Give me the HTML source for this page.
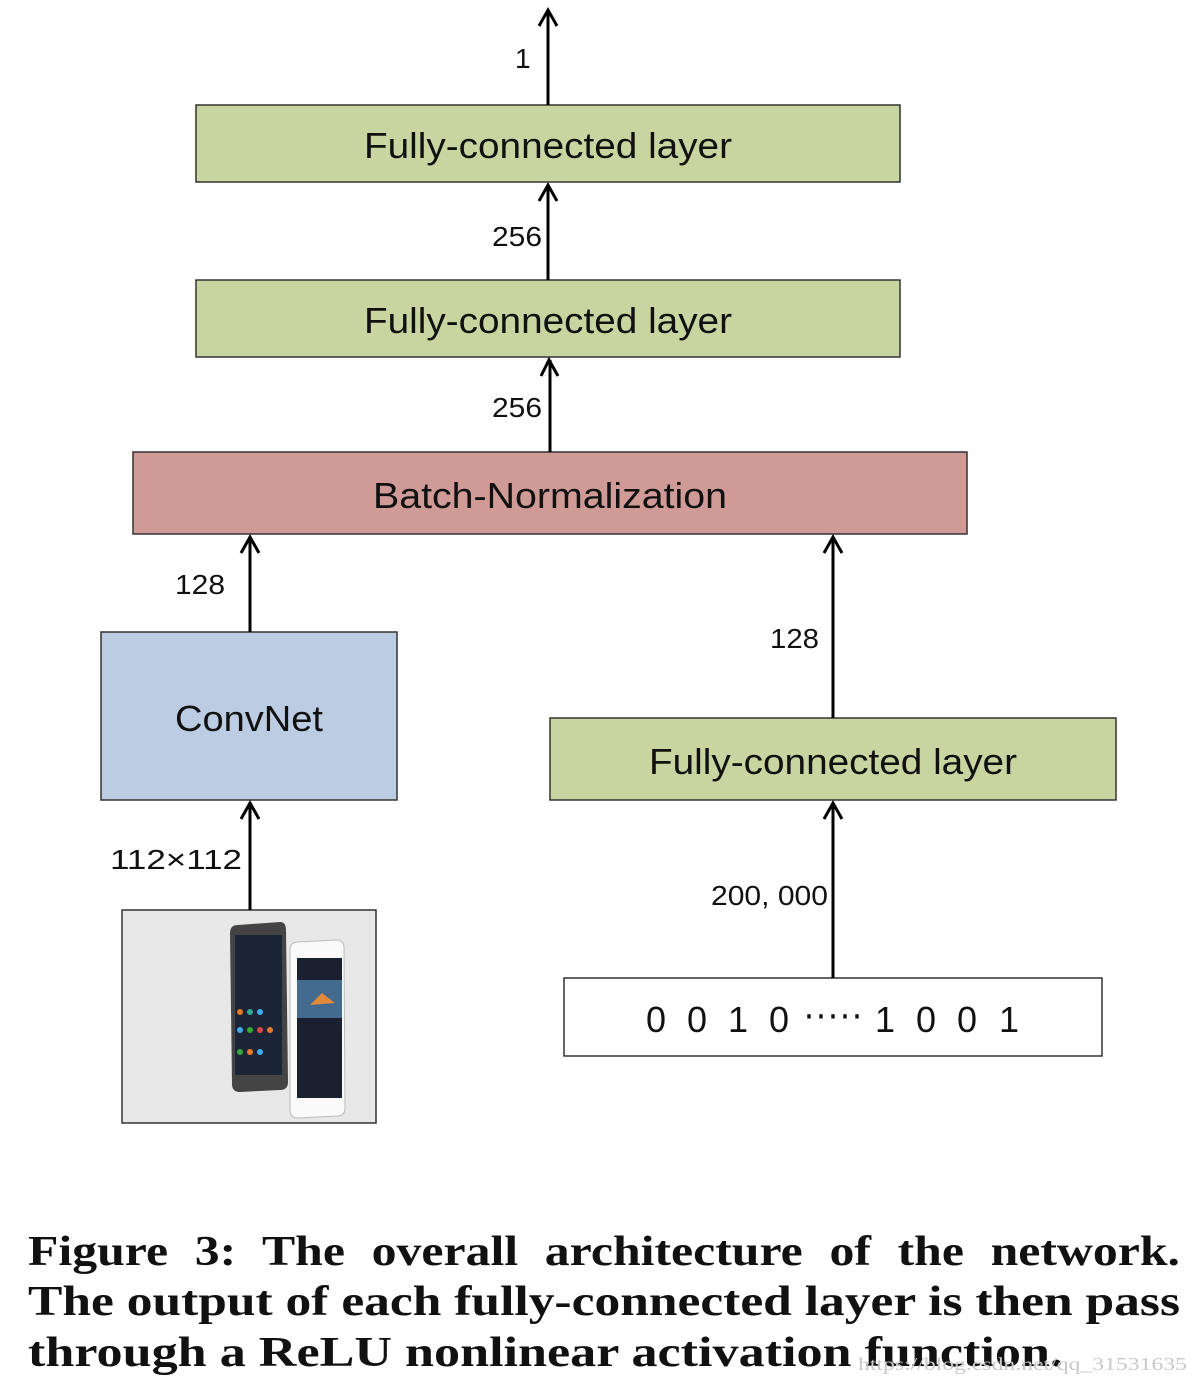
<!DOCTYPE html>
<html><head><meta charset="utf-8"><style>
html,body{margin:0;padding:0;background:#fff;}
body{width:1198px;height:1384px;position:relative;overflow:hidden;}
svg{position:absolute;left:0;top:0;}
</style></head><body>
<svg width="1198" height="1384" viewBox="0 0 1198 1384" font-family="Liberation Sans, sans-serif">
<g stroke="#333" stroke-width="1.5">
<rect x="196" y="105" width="704" height="77" fill="#c8d5a0"/>
<rect x="196" y="280" width="704" height="77" fill="#c8d5a0"/>
<rect x="133" y="452" width="834" height="82" fill="#d09a96"/>
<rect x="101" y="632" width="296" height="168" fill="#bccde3"/>
<rect x="550" y="718" width="566" height="82" fill="#c8d5a0"/>
<rect x="564" y="978" width="538" height="78" fill="#fff"/>
<rect x="122" y="910" width="254" height="213" fill="#e8e8e8"/>
</g>
<g stroke="#000" stroke-width="3" fill="none">
<path d="M548 105V10M539 26L548 10L557 26"/>
<path d="M548 280V185M539 201L548 185L557 201"/>
<path d="M550 452V360M541 376L549 360L558 376"/>
<path d="M250 632V537M241 553L250 537L259 553"/>
<path d="M833 718V537M824 553L833 537L842 553"/>
<path d="M250 910V803M241 819L250 803L259 819"/>
<path d="M833 978V803M824 819L833 803L842 819"/>
</g>
<g>
<path d="M238 925 L280 922 Q286 922 286 930 L288 1082 Q288 1090 280 1090 L240 1092 Q232 1092 232 1084 L230 933 Q230 925 238 925Z" fill="#444"/>
<rect x="235" y="935" width="47" height="140" fill="#1c2535"/>
<g fill="#e87a2a"><circle cx="240" cy="1012" r="3"/><circle cx="250" cy="1012" r="3" fill="#3a9"/><circle cx="260" cy="1012" r="3" fill="#4ae"/><circle cx="240" cy="1030" r="3" fill="#4ae"/><circle cx="250" cy="1030" r="3" fill="#3a3"/><circle cx="260" cy="1030" r="3" fill="#d44"/><circle cx="270" cy="1030" r="3"/><circle cx="240" cy="1052" r="3" fill="#3a3"/><circle cx="250" cy="1052" r="3"/><circle cx="260" cy="1052" r="3" fill="#4ae"/></g>
<path d="M298 942 L336 940 Q344 940 344 948 L345 1108 Q345 1116 337 1116 L298 1118 Q290 1118 290 1110 L290 950 Q290 942 298 942Z" fill="#fafafa" stroke="#bbb"/>
<rect x="297" y="958" width="45" height="140" fill="#1a2030"/>
<rect x="297" y="980" width="45" height="38" fill="#456a90"/>
<path d="M310 1005 L322 993 L335 1003Z" fill="#e08a3a"/>
</g>
<g font-size="36" fill="#111" text-anchor="middle">
<text x="548" y="158" textLength="368" lengthAdjust="spacingAndGlyphs">Fully-connected layer</text>
<text x="548" y="333" textLength="368" lengthAdjust="spacingAndGlyphs">Fully-connected layer</text>
<text x="550" y="508" textLength="354" lengthAdjust="spacingAndGlyphs">Batch-Normalization</text>
<text x="249" y="731" textLength="148" lengthAdjust="spacingAndGlyphs">ConvNet</text>
<text x="833" y="774" textLength="368" lengthAdjust="spacingAndGlyphs">Fully-connected layer</text>
<text x="656" y="1032">0</text><text x="697" y="1032">0</text><text x="738" y="1032">1</text><text x="779" y="1032">0</text>
<text x="885" y="1032">1</text><text x="926" y="1032">0</text><text x="967" y="1032">0</text><text x="1009" y="1032">1</text>
</g>
<text x="803" y="1027" font-size="40" fill="#111" textLength="60" lengthAdjust="spacingAndGlyphs">·····</text>
<g font-size="28" fill="#111">
<text x="515" y="68">1</text>
<text x="492" y="246" textLength="50" lengthAdjust="spacingAndGlyphs">256</text>
<text x="492" y="417" textLength="50" lengthAdjust="spacingAndGlyphs">256</text>
<text x="175" y="594" textLength="50" lengthAdjust="spacingAndGlyphs">128</text>
<text x="770" y="648" textLength="49" lengthAdjust="spacingAndGlyphs">128</text>
<text x="110" y="869" textLength="132" lengthAdjust="spacingAndGlyphs">112×112</text>
<text x="711" y="905" textLength="117" lengthAdjust="spacingAndGlyphs">200, 000</text>
</g>
<g font-family="Liberation Serif, serif" font-weight="bold" font-size="42" fill="#111">
<text x="28" y="1265" textLength="1152" lengthAdjust="spacingAndGlyphs" word-spacing="12">Figure 3:  The overall architecture of the network.</text>
<text x="28" y="1315" textLength="1152" lengthAdjust="spacingAndGlyphs">The output of each fully-connected layer is then pass</text>
<text x="28" y="1366" textLength="1035" lengthAdjust="spacingAndGlyphs">through a ReLU nonlinear activation function.</text>
</g>
<text x="858" y="1370" font-family="Liberation Serif, serif" font-size="18" fill="#c8c8c8" textLength="329" lengthAdjust="spacingAndGlyphs">https://blog.csdn.net/qq_31531635</text>
</svg>
</body></html>
